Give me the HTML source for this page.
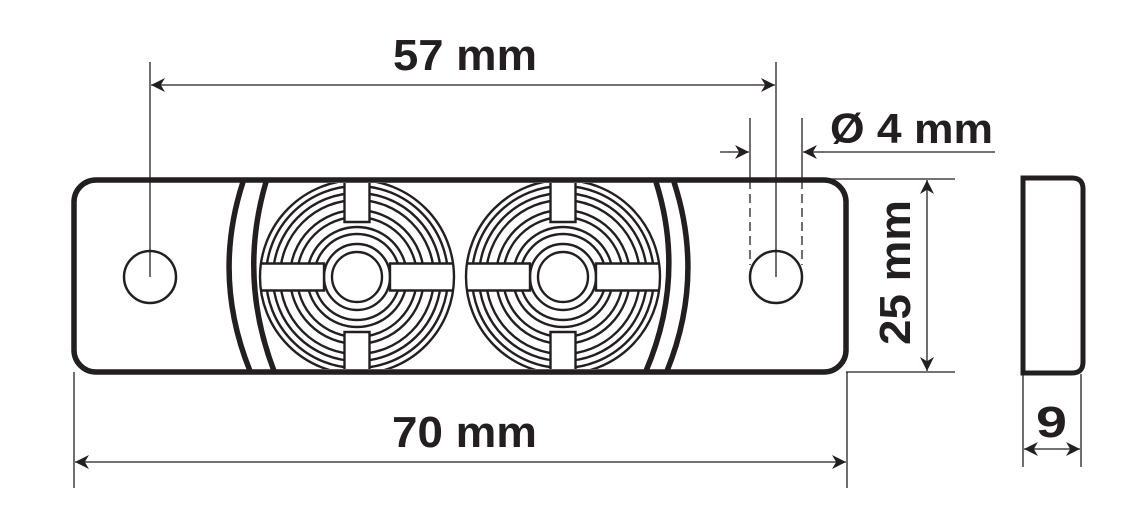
<!DOCTYPE html>
<html><head><meta charset="utf-8"><style>
html,body{margin:0;padding:0;background:#fff;}
svg{display:block;}
text{font-family:"Liberation Sans",sans-serif;font-weight:bold;fill:#231f20;}
</style></head><body>
<svg width="1141" height="521" viewBox="0 0 1141 521" xmlns="http://www.w3.org/2000/svg">
<defs>
<marker id="ar" viewBox="0 0 10 10" refX="10" refY="5" markerWidth="14" markerHeight="14" markerUnits="userSpaceOnUse" orient="auto-start-reverse">
<path d="M0,0 L10,5 L0,10 L3,5 z" fill="#231f20"/></marker>
<g id="lens">
<g fill="none" stroke="#231f20" stroke-width="2.4">
<circle r="25"/><circle r="33"/><circle r="43"/><circle r="50"/><circle r="60"/><circle r="67"/><circle r="77"/><circle r="84"/><circle r="91"/>
</g>
<rect x="-12.5" y="-94" width="25" height="39" fill="#fff"/>
<rect x="-12.5" y="55" width="25" height="39" fill="#fff"/>
<rect x="-94" y="-13.5" width="61" height="27" fill="#fff"/>
<rect x="33" y="-13.5" width="61" height="27" fill="#fff"/>
<g stroke="#231f20" stroke-width="2.4" fill="none">
<path d="M-12.5,-96 V-55 H12.5 V-96 M-12.5,96 V55 H12.5 V96"/>
<path d="M-96,-13.5 H-33 V13.5 H-96 M96,-13.5 H33 V13.5 H96"/>
<circle r="97"/>
</g>
</g>
<clipPath id="pc"><rect x="77" y="183" width="766" height="186"/></clipPath>
</defs>
<g clip-path="url(#pc)">
<use href="#lens" x="357" y="277"/>
<use href="#lens" x="563" y="277"/>
</g>
<g stroke="#231f20" fill="none">
<rect x="74" y="180" width="772" height="192" rx="22" stroke-width="5.5"/>
<circle cx="150" cy="277" r="26" stroke-width="2.5"/>
<circle cx="776" cy="277" r="26" stroke-width="2.5"/>
<path d="M243,182 Q212,277 250,371" stroke-width="5.5"/>
<path d="M266,182 Q238,277 274,371" stroke-width="5.5"/>
<path d="M656,182 Q686,277 646,371" stroke-width="5.5"/>
<path d="M674,182 Q705,277 667,371" stroke-width="5.5"/>
</g>
<g stroke="#231f20" fill="none" stroke-width="1.3">
<line x1="150" y1="62" x2="150" y2="277"/>
<line x1="776" y1="62" x2="776" y2="277"/>
<line x1="151" y1="85" x2="775" y2="85" marker-start="url(#ar)" marker-end="url(#ar)"/>
<line x1="750" y1="118" x2="750" y2="180"/>
<line x1="802" y1="118" x2="802" y2="180"/>
<line x1="750" y1="180" x2="750" y2="265" stroke-dasharray="9,5"/>
<line x1="802" y1="180" x2="802" y2="265" stroke-dasharray="9,5"/>
<line x1="720" y1="152" x2="749" y2="152" marker-end="url(#ar)"/>
<line x1="995" y1="152" x2="803" y2="152" marker-end="url(#ar)"/>
<line x1="820" y1="179" x2="955" y2="179"/>
<line x1="846" y1="372" x2="955" y2="372"/>
<line x1="927" y1="180" x2="927" y2="371" marker-start="url(#ar)" marker-end="url(#ar)"/>
<line x1="74" y1="372" x2="74" y2="488"/>
<line x1="847" y1="372" x2="847" y2="488"/>
<line x1="75" y1="462" x2="846" y2="462" marker-start="url(#ar)" marker-end="url(#ar)"/>
<line x1="1023" y1="374" x2="1023" y2="467"/>
<line x1="1081" y1="374" x2="1081" y2="467"/>
<line x1="1024" y1="449" x2="1080" y2="449" marker-start="url(#ar)" marker-end="url(#ar)"/>
</g>
<path d="M1023,178 H1072 Q1083,178 1083,189 V362 Q1083,373 1072,373 H1023 Z" fill="none" stroke="#231f20" stroke-width="5"/>
<text x="393" y="70" font-size="44" textLength="144" lengthAdjust="spacingAndGlyphs">57 mm</text>
<text x="830" y="143" font-size="42" textLength="163" lengthAdjust="spacingAndGlyphs">Ø 4 mm</text>
<text x="392" y="447" font-size="44" textLength="145" lengthAdjust="spacingAndGlyphs">70 mm</text>
<text x="1036" y="437" font-size="44" textLength="31" lengthAdjust="spacingAndGlyphs">9</text>
<text transform="translate(910,345) rotate(-90)" font-size="44" textLength="145" lengthAdjust="spacingAndGlyphs">25 mm</text>
</svg>
</body></html>
